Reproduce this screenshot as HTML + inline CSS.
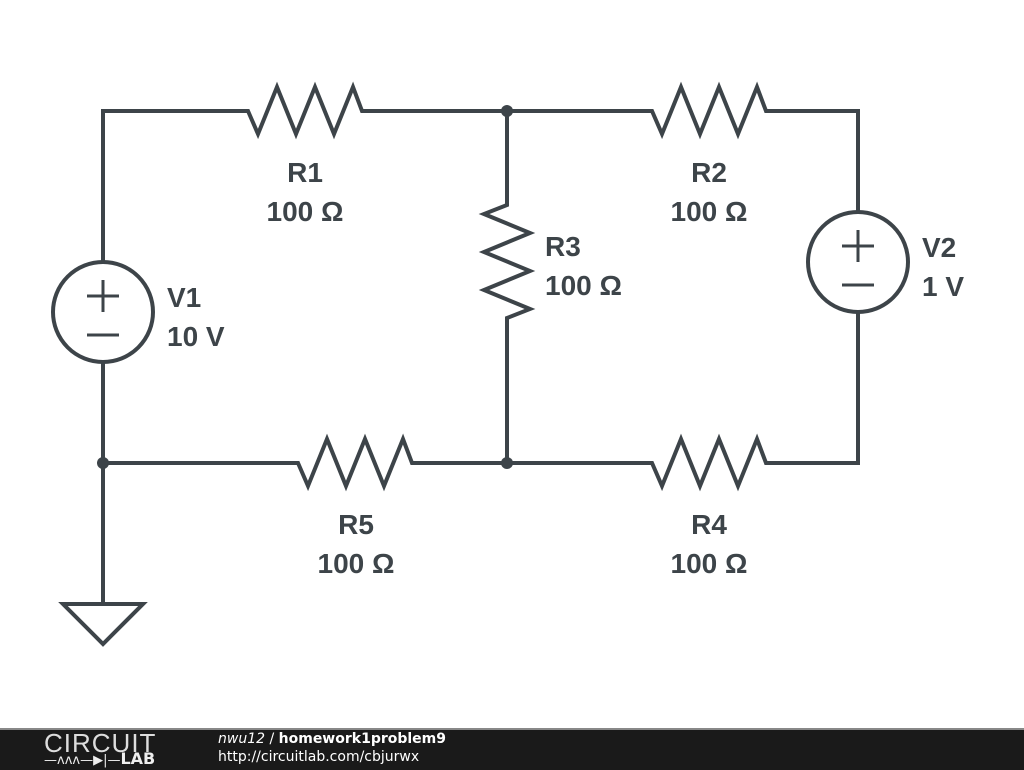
<!DOCTYPE html>
<html><head><style>
body{margin:0;width:1024px;height:768px;background:#fff;overflow:hidden;position:relative;font-family:"DejaVu Sans",sans-serif}
svg{position:absolute;left:0;top:0}
.footer{position:absolute;left:0;top:728px;width:1024px;height:40px;background:#1a1a1a;border-top:2px solid #888}
</style></head><body>
<svg width="1024" height="768" viewBox="0 0 1024 768">
<g fill="none" stroke="#3d4449" stroke-width="4" stroke-linejoin="miter">
<polyline points="103,262 103,111 248,111 258,134 277,87 296,134 315,87 334,134 353,87 362,111 652,111 662,134 681,87 700,134 719,87 738,134 757,87 766,111 858,111 858,212"/>
<polyline points="507,111 507,205 484,214 530,233 484,252 530,271 484,290 530,309 507,318 507,463"/>
<polyline points="103,362 103,604"/>
<polyline points="103,463 298,463 308,486 327,439 346,486 365,439 384,486 403,439 412,463 652,463 662,486 681,439 700,486 719,439 738,486 757,439 766,463 858,463 858,312"/>
<circle cx="103" cy="312" r="50"/>
<circle cx="858" cy="262" r="50"/>
<polygon points="63,604 143,604 103,644"/>
<g stroke-width="3">
<line x1="87" y1="296" x2="119" y2="296"/><line x1="103" y1="280" x2="103" y2="312"/>
<line x1="87" y1="335" x2="119" y2="335"/>
<line x1="842" y1="246" x2="874" y2="246"/><line x1="858" y1="230" x2="858" y2="262"/>
<line x1="842" y1="285" x2="874" y2="285"/>
</g>
</g>
<g fill="#3d4449">
<circle cx="507" cy="111" r="6"/><circle cx="507" cy="463" r="6"/><circle cx="103" cy="463" r="6"/>
</g>
<g fill="#3d4449" font-family="Liberation Sans, sans-serif" font-weight="bold" font-size="28">
<text x="305" y="182" text-anchor="middle">R1</text><text x="305" y="221" text-anchor="middle">100 Ω</text>
<text x="709" y="182" text-anchor="middle">R2</text><text x="709" y="221" text-anchor="middle">100 Ω</text>
<text x="545" y="256">R3</text><text x="545" y="295">100 Ω</text>
<text x="356" y="534" text-anchor="middle">R5</text><text x="356" y="573" text-anchor="middle">100 Ω</text>
<text x="709" y="534" text-anchor="middle">R4</text><text x="709" y="573" text-anchor="middle">100 Ω</text>
<text x="167" y="307">V1</text><text x="167" y="346">10 V</text>
<text x="922" y="257">V2</text><text x="922" y="296">1 V</text>
</g>
</svg>
<div class="footer">
<div style="position:absolute;left:44px;top:0px;color:#ddd;font-family:'Liberation Sans',sans-serif;font-size:26px;letter-spacing:1px;line-height:26px">CIRCUIT</div>
<div style="position:absolute;left:44px;top:21px;color:#eee;font-size:13px;line-height:16px">—ʌʌʌ—▶|—<b style="font-size:16px">LAB</b></div>
<div style="position:absolute;left:218px;top:1px;color:#fff;font-size:14px;line-height:17px"><i>nwu12</i> / <b>homework1problem9</b></div>
<div style="position:absolute;left:218px;top:19px;color:#fff;font-size:14px;line-height:17px">http://circuitlab.com/cbjurwx</div>
</div>
</body></html>
